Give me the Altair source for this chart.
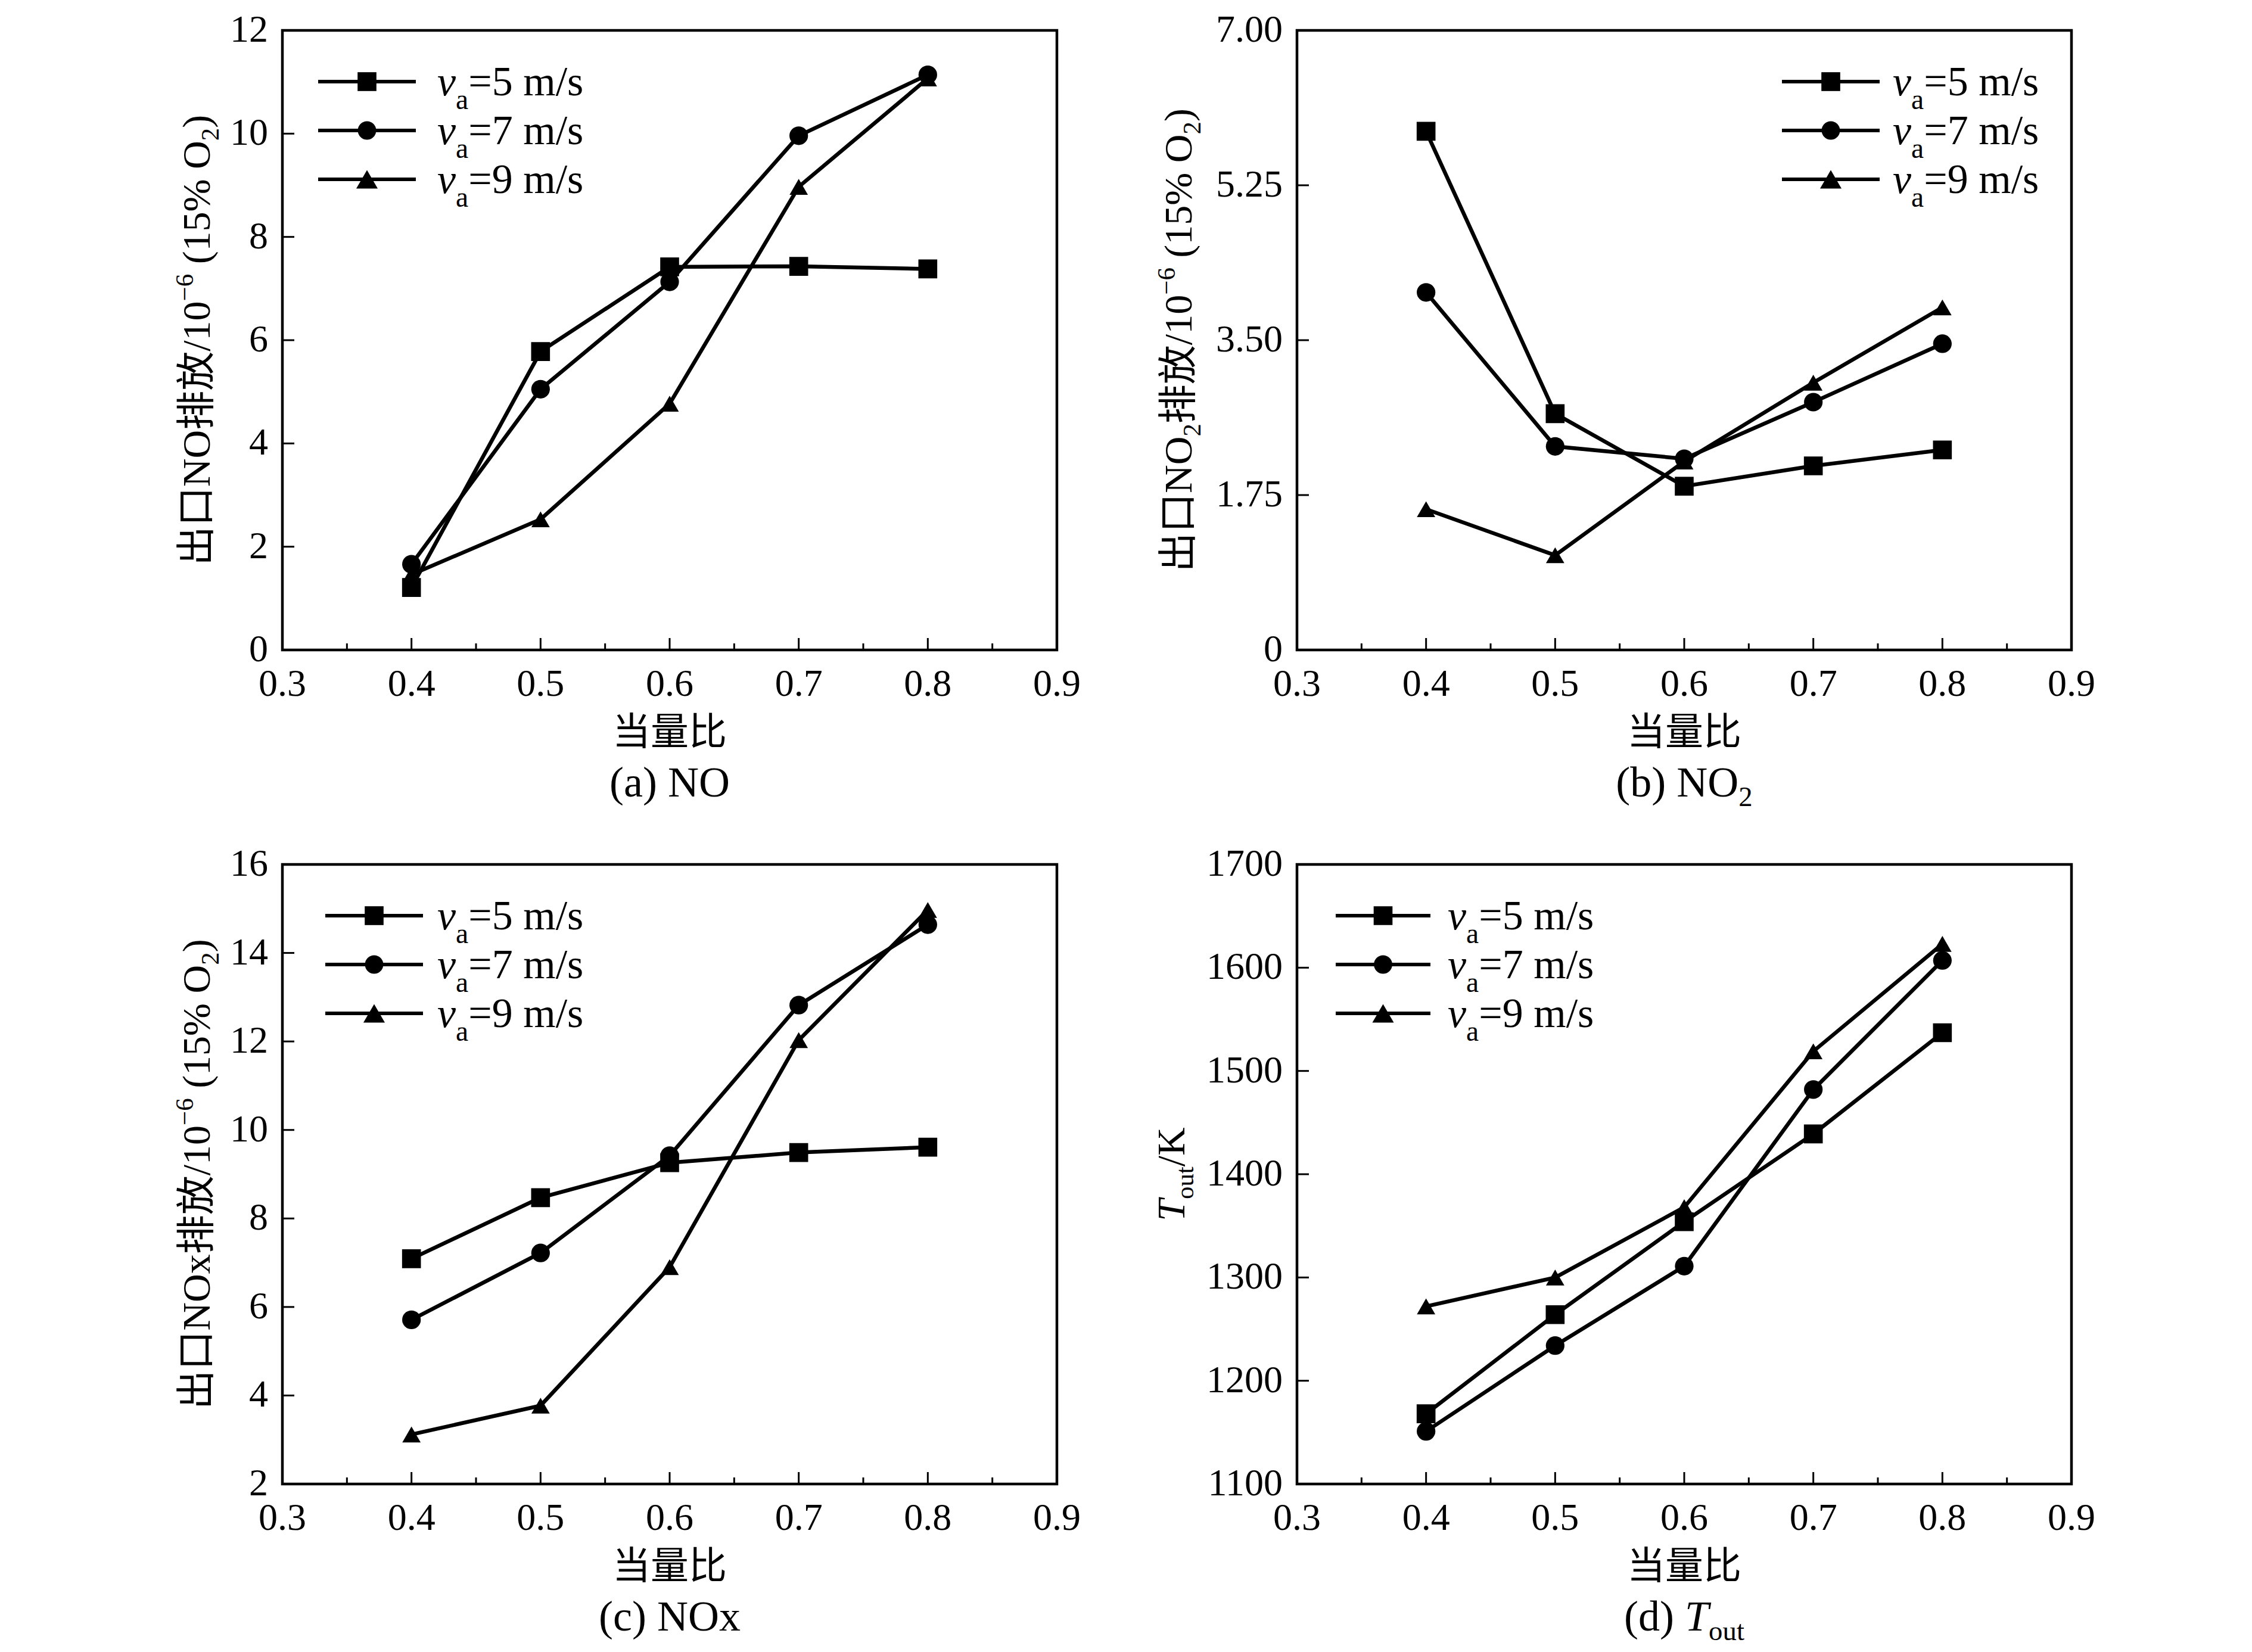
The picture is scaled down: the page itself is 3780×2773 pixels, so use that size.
import altair as alt
import pandas as pd

# equivalence ratio
phi = [0.4, 0.5, 0.6, 0.7, 0.8]
series = ["5", "7", "9"]

# (a) NO
no_5 = [1.21, 5.78, 7.42, 7.43, 7.38]
no_7 = [1.66, 5.05, 7.13, 9.96, 11.14]
no_9 = [1.46, 2.53, 4.77, 8.97, 11.07]
# (b) NO2
no2_5 = [5.86, 2.67, 1.85, 2.08, 2.26]
no2_7 = [4.04, 2.30, 2.16, 2.80, 3.46]
no2_9 = [1.59, 1.07, 2.13, 3.02, 3.87]
# (c) NOx
nox_5 = [7.09, 8.47, 9.26, 9.49, 9.61]
nox_7 = [5.71, 7.22, 9.42, 12.82, 14.64]
nox_9 = [3.12, 3.77, 6.90, 12.03, 14.97]
# (d) T_out
tout_5 = [1168, 1264, 1354, 1439, 1537]
tout_7 = [1151, 1234, 1311, 1482, 1607]
tout_9 = [1272, 1300, 1368, 1519, 1623]

x_major = [0.3, 0.4, 0.5, 0.6, 0.7, 0.8, 0.9]
x_labels = ["0.3", "0.4", "0.5", "0.6", "0.7", "0.8", "0.9"]
x_minor = [0.35, 0.45, 0.55, 0.65, 0.75, 0.85]
y_no = [0, 2, 4, 6, 8, 10, 12]
y_no_lab = ["0", "2", "4", "6", "8", "10", "12"]
y_no2 = [0, 1.75, 3.5, 5.25, 7]
y_no2_lab = ["0", "1.75", "3.50", "5.25", "7.00"]
y_nox = [2, 4, 6, 8, 10, 12, 14, 16]
y_nox_lab = ["2", "4", "6", "8", "10", "12", "14", "16"]
y_tout = [1100, 1200, 1300, 1400, 1500, 1600, 1700]
y_tout_lab = ["1100", "1200", "1300", "1400", "1500", "1600", "1700"]

W, H = 1300, 1040
LATIN = "Liberation Serif"
FONT = "Liberation Serif, Noto Sans CJK SC"
TICK_FS = 64
LEG_FS = 70
TITLE_FS = 66
CAP_FS = 72

SHAPES = ["square", "circle", "triangle-up"]
SIZES = [1000, 950, 1300]

# Times-compatible advance widths (em)
W_ROMAN = {" ": 0.25, "(": 0.333, ")": 0.333, "/": 0.278, "%": 0.833, ".": 0.25,
           "N": 0.722, "O": 0.722, "K": 0.722, "T": 0.611, "x": 0.5, "a": 0.444,
           "b": 0.5, "c": 0.444, "d": 0.5, "=": 0.564, "m": 0.778, "s": 0.389,
           "o": 0.5, "u": 0.5, "t": 0.278, "\u2212": 0.564}
W_ITALIC = {"v": 0.444, "T": 0.556}

one = pd.DataFrame({"k": [0]})


def text_width(s, size, italic=False):
    w = 0
    for ch in s:
        if italic and ch in W_ITALIC:
            w += W_ITALIC[ch]
        elif ch.isdigit():
            w += 0.5
        elif ch in W_ROMAN:
            w += W_ROMAN[ch]
        else:
            w += 1.0  # CJK
    return w * size


def rich(pieces, size, x, y, vertical=False, anchor="center"):
    """pieces: (text, scale, italic, shift in em)"""
    widths = [text_width(t, size * sc, it) for t, sc, it, sh in pieces]
    off = -sum(widths) / 2 if anchor == "center" else 0
    layers = []
    for (t, sc, it, sh), w in zip(pieces, widths):
        # svg drops leading blanks, so skip them here
        lead = len(t) - len(t.lstrip(" "))
        start = off + text_width(" " * lead, size * sc)
        if vertical:
            px, py, ang = x + 0.35 * size, y - start, 270
        else:
            px, py, ang = x + start, y + 0.33 * size, 0
        layers.append(alt.Chart(one).mark_text(
            text=t.strip(" "), font=FONT, fontSize=size * sc,
            fontStyle="italic" if it else "normal",
            align="left", baseline="alphabetic", angle=ang,
            dy=sh * size, color="black"
        ).encode(x=alt.value(px), y=alt.value(py)))
        off += w
    return layers


def panel(vals, ydomain, yticks, ylabs, ytitle, caption, leg):
    df = pd.DataFrame({
        "phi": phi * 3,
        "val": vals[0] + vals[1] + vals[2],
        "series": [s for s in series for _ in phi],
    })
    x = alt.X("phi:Q", scale=alt.Scale(domain=[0.3, 0.9], nice=False, zero=False), axis=None)
    y = alt.Y("val:Q", scale=alt.Scale(domain=ydomain, nice=False, zero=False), axis=None)
    base = alt.Chart(df)
    lines = base.mark_line(color="black", strokeWidth=6.5).encode(x=x, y=y, detail="series:N")
    pts = base.mark_point(filled=True, color="black", opacity=1).encode(
        x=x, y=y,
        shape=alt.Shape("series:N", scale=alt.Scale(domain=series, range=SHAPES), legend=None),
        size=alt.Size("series:N", scale=alt.Scale(domain=series, range=SIZES), legend=None),
    )
    xt = pd.DataFrame({"t": x_major, "lab": x_labels})
    yt = pd.DataFrame({"t": yticks, "lab": ylabs})
    tmaj = alt.Chart(xt).mark_rule(color="black", strokeWidth=3).encode(
        x=alt.X("t:Q", axis=None), y=alt.value(H), y2=alt.value(H - 20))
    tmin = alt.Chart(pd.DataFrame({"t": x_minor})).mark_rule(color="black", strokeWidth=3).encode(
        x=alt.X("t:Q", axis=None), y=alt.value(H), y2=alt.value(H - 11))
    ytk = alt.Chart(yt).mark_rule(color="black", strokeWidth=3).encode(
        y=alt.Y("t:Q", axis=None), x=alt.value(0), x2=alt.value(20))
    xlab = alt.Chart(xt).mark_text(
        font=LATIN, fontSize=TICK_FS, align="center", baseline="middle", color="black"
    ).encode(x=alt.X("t:Q", axis=None), y=alt.value(H + 58), text="lab:N")
    ylab = alt.Chart(yt).mark_text(
        font=LATIN, fontSize=TICK_FS, align="right", baseline="middle", color="black"
    ).encode(y=alt.Y("t:Q", axis=None), x=alt.value(-24), text="lab:N")

    layers = [tmaj, tmin, ytk, xlab, ylab, lines, pts]

    # legend
    lx0, lx1, ltx = leg
    for i, s in enumerate(series):
        ly = 86 + i * 82
        layers.append(alt.Chart(one).mark_rule(color="black", strokeWidth=6).encode(
            x=alt.value(lx0), x2=alt.value(lx1), y=alt.value(ly)))
        layers.append(alt.Chart(one).mark_point(
            shape=SHAPES[i], size=SIZES[i], filled=True, color="black", opacity=1
        ).encode(x=alt.value((lx0 + lx1) / 2), y=alt.value(ly)))
        layers += rich([("v", 1, True, 0), ("a", 0.68, False, 0.32), ("=%s m/s" % s, 1, False, 0)],
                       LEG_FS, ltx, ly, anchor="left")

    # titles
    layers += rich(ytitle[0], TITLE_FS, ytitle[1], H / 2, vertical=True)
    layers.append(alt.Chart(one).mark_text(
        text="当量比", font=FONT, fontSize=64, baseline="middle", align="center",
        color="black").encode(x=alt.value(W / 2), y=alt.value(H + 140)))
    layers += rich(caption, CAP_FS, W / 2, H + 222)

    return alt.layer(*layers).properties(width=W, height=H)


sub2 = ("2", 0.65, False, 0.22)
sup6 = ("\u22126", 0.65, False, -0.42)

pa = panel([no_5, no_7, no_9], [0, 12], y_no, y_no_lab,
           ([("出口NO排放/10", 1, False, 0), sup6, (" (15% O", 1, False, 0), sub2, (")", 1, False, 0)], -145),
           [("(a) NO", 1, False, 0)], (60, 224, 260))
pb = panel([no2_5, no2_7, no2_9], [0, 7], y_no2, y_no2_lab,
           ([("出口NO", 1, False, 0), sub2, ("排放/10", 1, False, 0), sup6, (" (15% O", 1, False, 0), sub2,
             (")", 1, False, 0)], -200),
           [("(b) NO", 1, False, 0), sub2], (814, 978, 1000))
pc = panel([nox_5, nox_7, nox_9], [2, 16], y_nox, y_nox_lab,
           ([("出口NOx排放/10", 1, False, 0), sup6, (" (15% O", 1, False, 0), sub2, (")", 1, False, 0)], -145),
           [("(c) NOx", 1, False, 0)], (72, 236, 260))
pd_ = panel([tout_5, tout_7, tout_9], [1100, 1700], y_tout, y_tout_lab,
            ([("T", 1, True, 0), ("out", 0.65, False, 0.22), ("/K", 1, False, 0)], -212),
            [("(d) ", 1, False, 0), ("T", 1, True, 0), ("out", 0.65, False, 0.22)], (65, 224, 253))

chart = alt.concat(
    pa, pb, pc, pd_, columns=2, spacing={"row": 360, "column": 403}, bounds="flush"
).configure_view(
    stroke="black", strokeWidth=4.5
).properties(
    padding={"left": 280, "top": 8, "right": 0, "bottom": 0}, background="white"
)

chart.save("out.html", embed_options={"renderer": "svg", "actions": False})
